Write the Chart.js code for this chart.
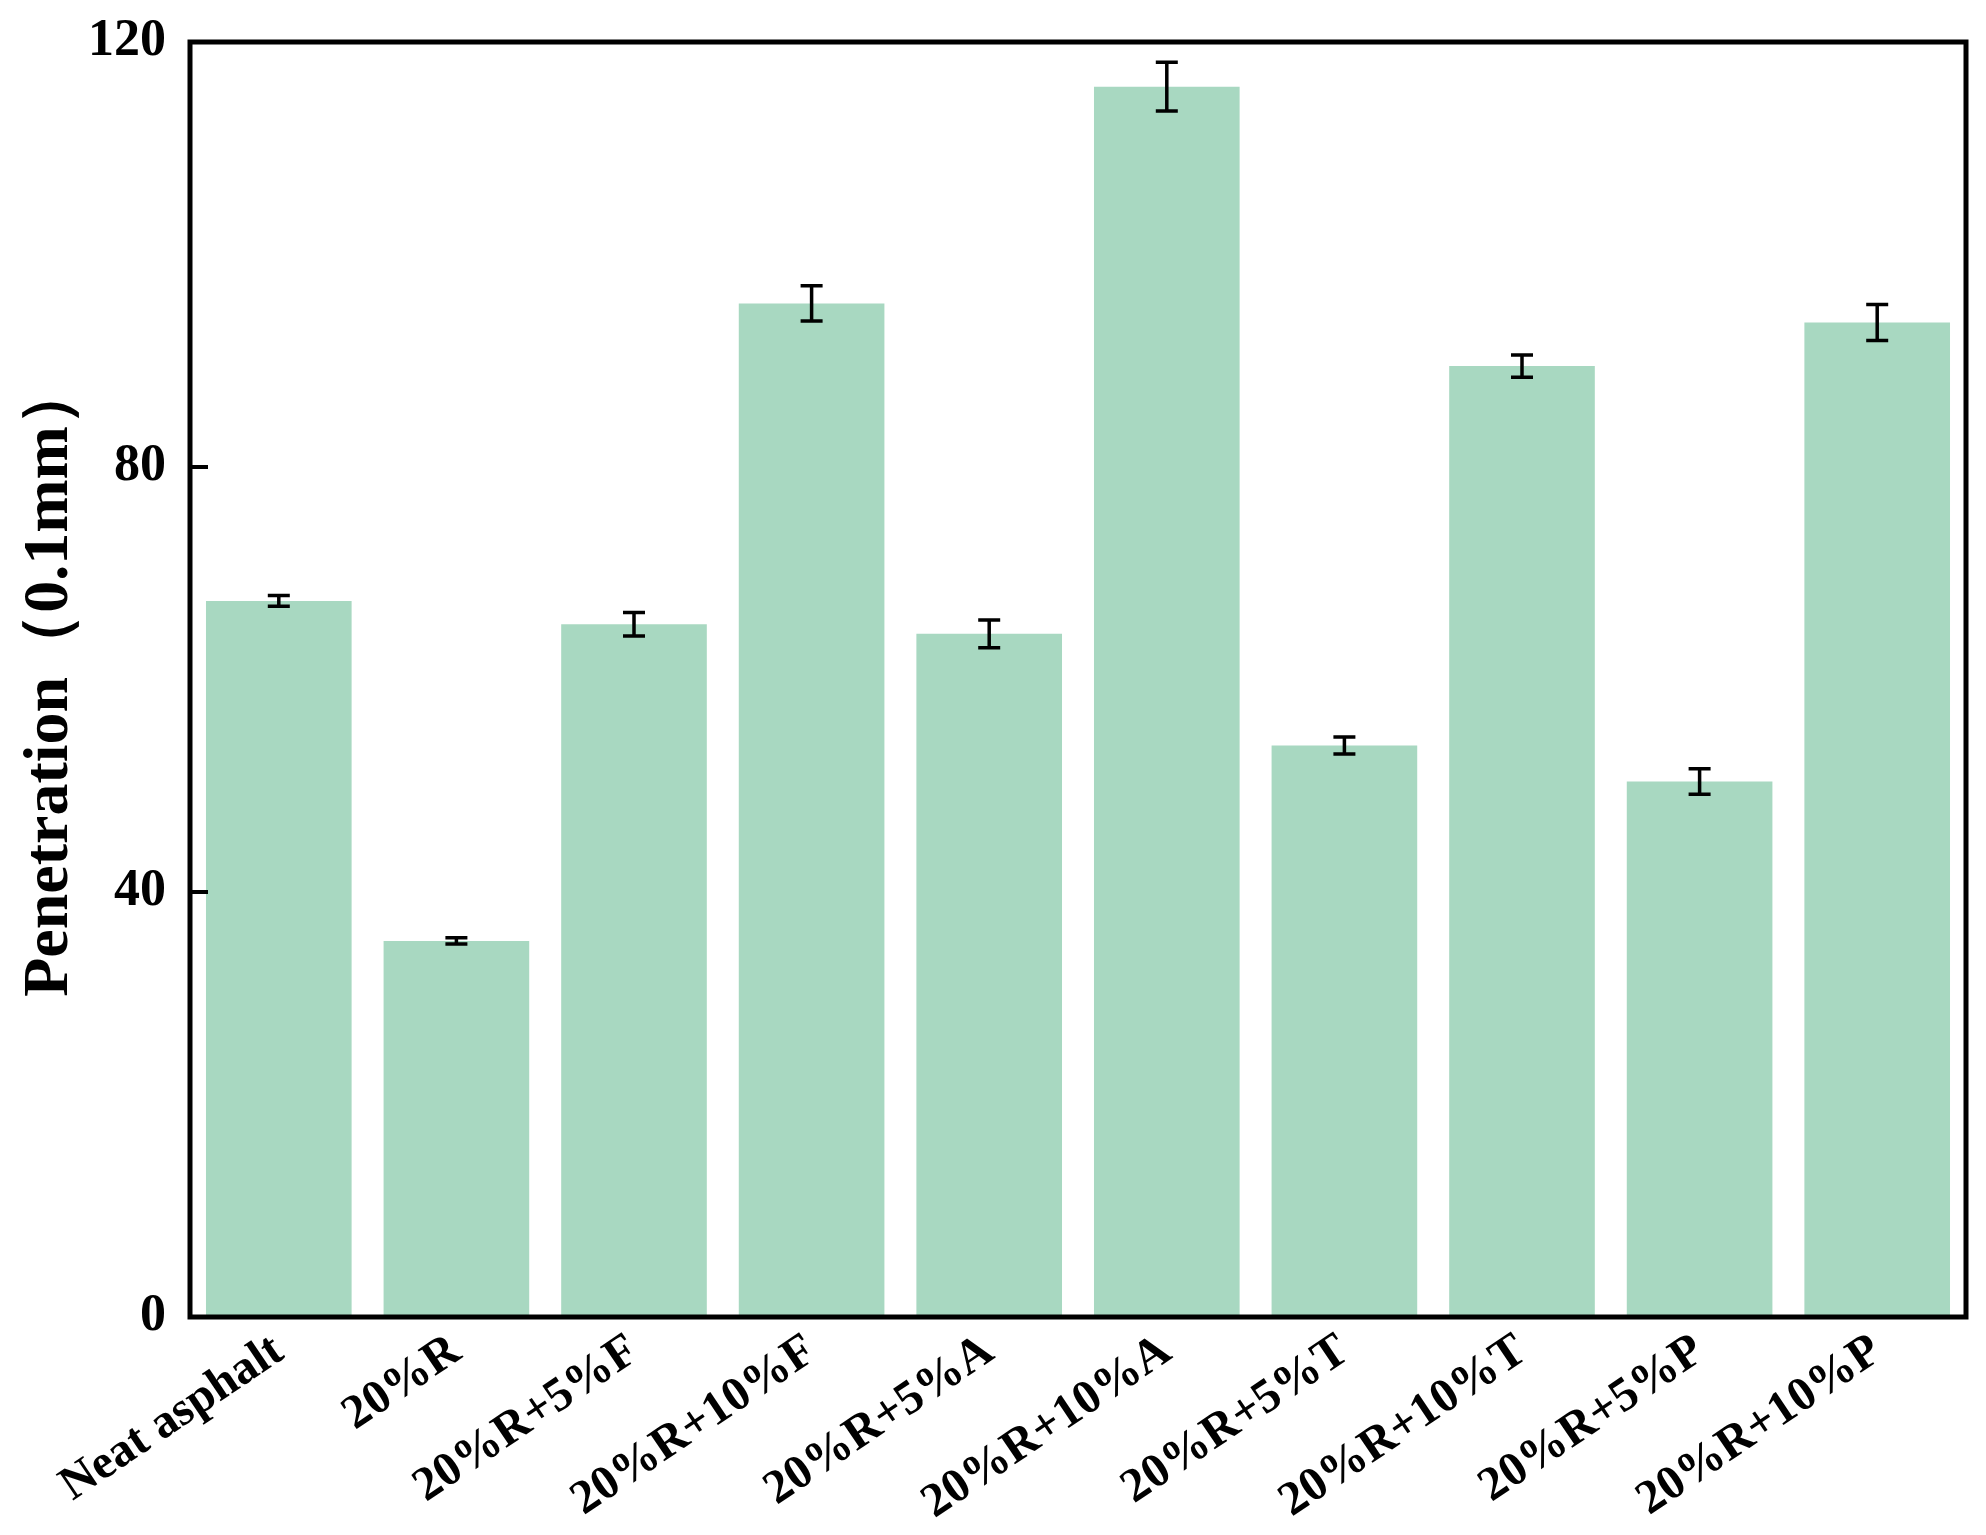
<!DOCTYPE html>
<html>
<head>
<meta charset="utf-8">
<script src="https://cdn.jsdelivr.net/npm/chart.js@4/dist/chart.umd.min.js"></script>
<style>
  html, body { margin:0; padding:0; background:#fff; }
  #wrap { width:1986px; height:1535px; }
</style>
</head>
<body>
<div id="wrap"><canvas id="penChart" width="1986" height="1535"></canvas></div>
<script>
// data
const categories = ["Neat asphalt","20%R","20%R+5%F","20%R+10%F","20%R+5%A","20%R+10%A","20%R+5%T","20%R+10%T","20%R+5%P","20%R+10%P"];
const penetration = [67.4, 35.4, 65.2, 95.4, 64.3, 115.8, 53.8, 89.5, 50.4, 93.6];
const errors = [0.5, 0.3, 1.1, 1.65, 1.3, 2.3, 0.8, 1.05, 1.2, 1.7];
const yTicks = [0, 40, 80, 120];

const FONT = "'Liberation Serif', 'Times New Roman', serif";
const BAR_COLOR = 'rgb(168,216,193)';

// frame box + inward y ticks
const framePlugin = {
  id: 'frame',
  afterDraw(chart){
    const {ctx, chartArea:a, scales:{y}} = chart;
    ctx.save();
    ctx.strokeStyle = '#000';
    ctx.lineWidth = 5;
    ctx.strokeRect(a.left, a.top, a.right - a.left, a.bottom - a.top);
    ctx.lineWidth = 4;
    yTicks.forEach(v => {
      const py = y.getPixelForValue(v);
      ctx.beginPath();
      ctx.moveTo(a.left, py);
      ctx.lineTo(a.left + 18, py);
      ctx.stroke();
    });
    ctx.restore();
  }
};

// error bars
const errorBarPlugin = {
  id: 'errorBars',
  afterDatasetsDraw(chart){
    const {ctx, scales:{y}} = chart;
    const meta = chart.getDatasetMeta(0);
    ctx.save();
    ctx.strokeStyle = '#000';
    ctx.lineWidth = 3.5;
    meta.data.forEach((bar, i) => {
      const top = y.getPixelForValue(penetration[i] + errors[i]);
      const bot = y.getPixelForValue(penetration[i] - errors[i]);
      const cap = 11;
      ctx.beginPath();
      ctx.moveTo(bar.x, top); ctx.lineTo(bar.x, bot);
      ctx.moveTo(bar.x - cap, top); ctx.lineTo(bar.x + cap, top);
      ctx.moveTo(bar.x - cap, bot); ctx.lineTo(bar.x + cap, bot);
      ctx.stroke();
    });
    ctx.restore();
  }
};

new Chart(document.getElementById('penChart').getContext('2d'), {
  type: 'bar',
  data: {
    labels: categories,
    datasets: [{
      data: penetration,
      backgroundColor: BAR_COLOR,
      borderWidth: 0,
      categoryPercentage: 1.0,
      barPercentage: 0.82
    }]
  },
  options: {
    responsive: false,
    animation: false,
    devicePixelRatio: 1,
    layout: { padding: { top: 42, right: 20, left: 0, bottom: 0 } },
    plugins: { legend: { display: false }, tooltip: { enabled: false } },
    scales: {
      x: {
        grid: { display: false, drawTicks: false },
        border: { display: false },
        ticks: {
          color: '#000',
          font: { family: FONT, size: 48, weight: 'bold' },
          autoSkip: false,
          minRotation: 34,
          maxRotation: 34,
          padding: 6
        },
        afterFit(scale){ scale.height = 1535 - 1317; }
      },
      y: {
        min: 0,
        max: 120,
        afterBuildTicks(scale){ scale.ticks = yTicks.map(v => ({ value: v })); },
        grid: { display: false, drawTicks: false },
        border: { display: false },
        ticks: {
          color: '#000',
          font: { family: FONT, size: 52, weight: 'bold', lineHeight: 1 },
          padding: 24
        },
        title: {
          display: true,
          text: 'Penetration（0.1mm）',
          color: '#000',
          font: { family: FONT, size: 64, weight: 'bold' },
          padding: { top: 12, bottom: 0 }
        },
        afterFit(scale){
          scale.width = 190;
          scale.paddingTop = 0;
          scale.paddingBottom = 0;
        }
      }
    }
  },
  plugins: [framePlugin, errorBarPlugin]
});
</script>
</body>
</html>
